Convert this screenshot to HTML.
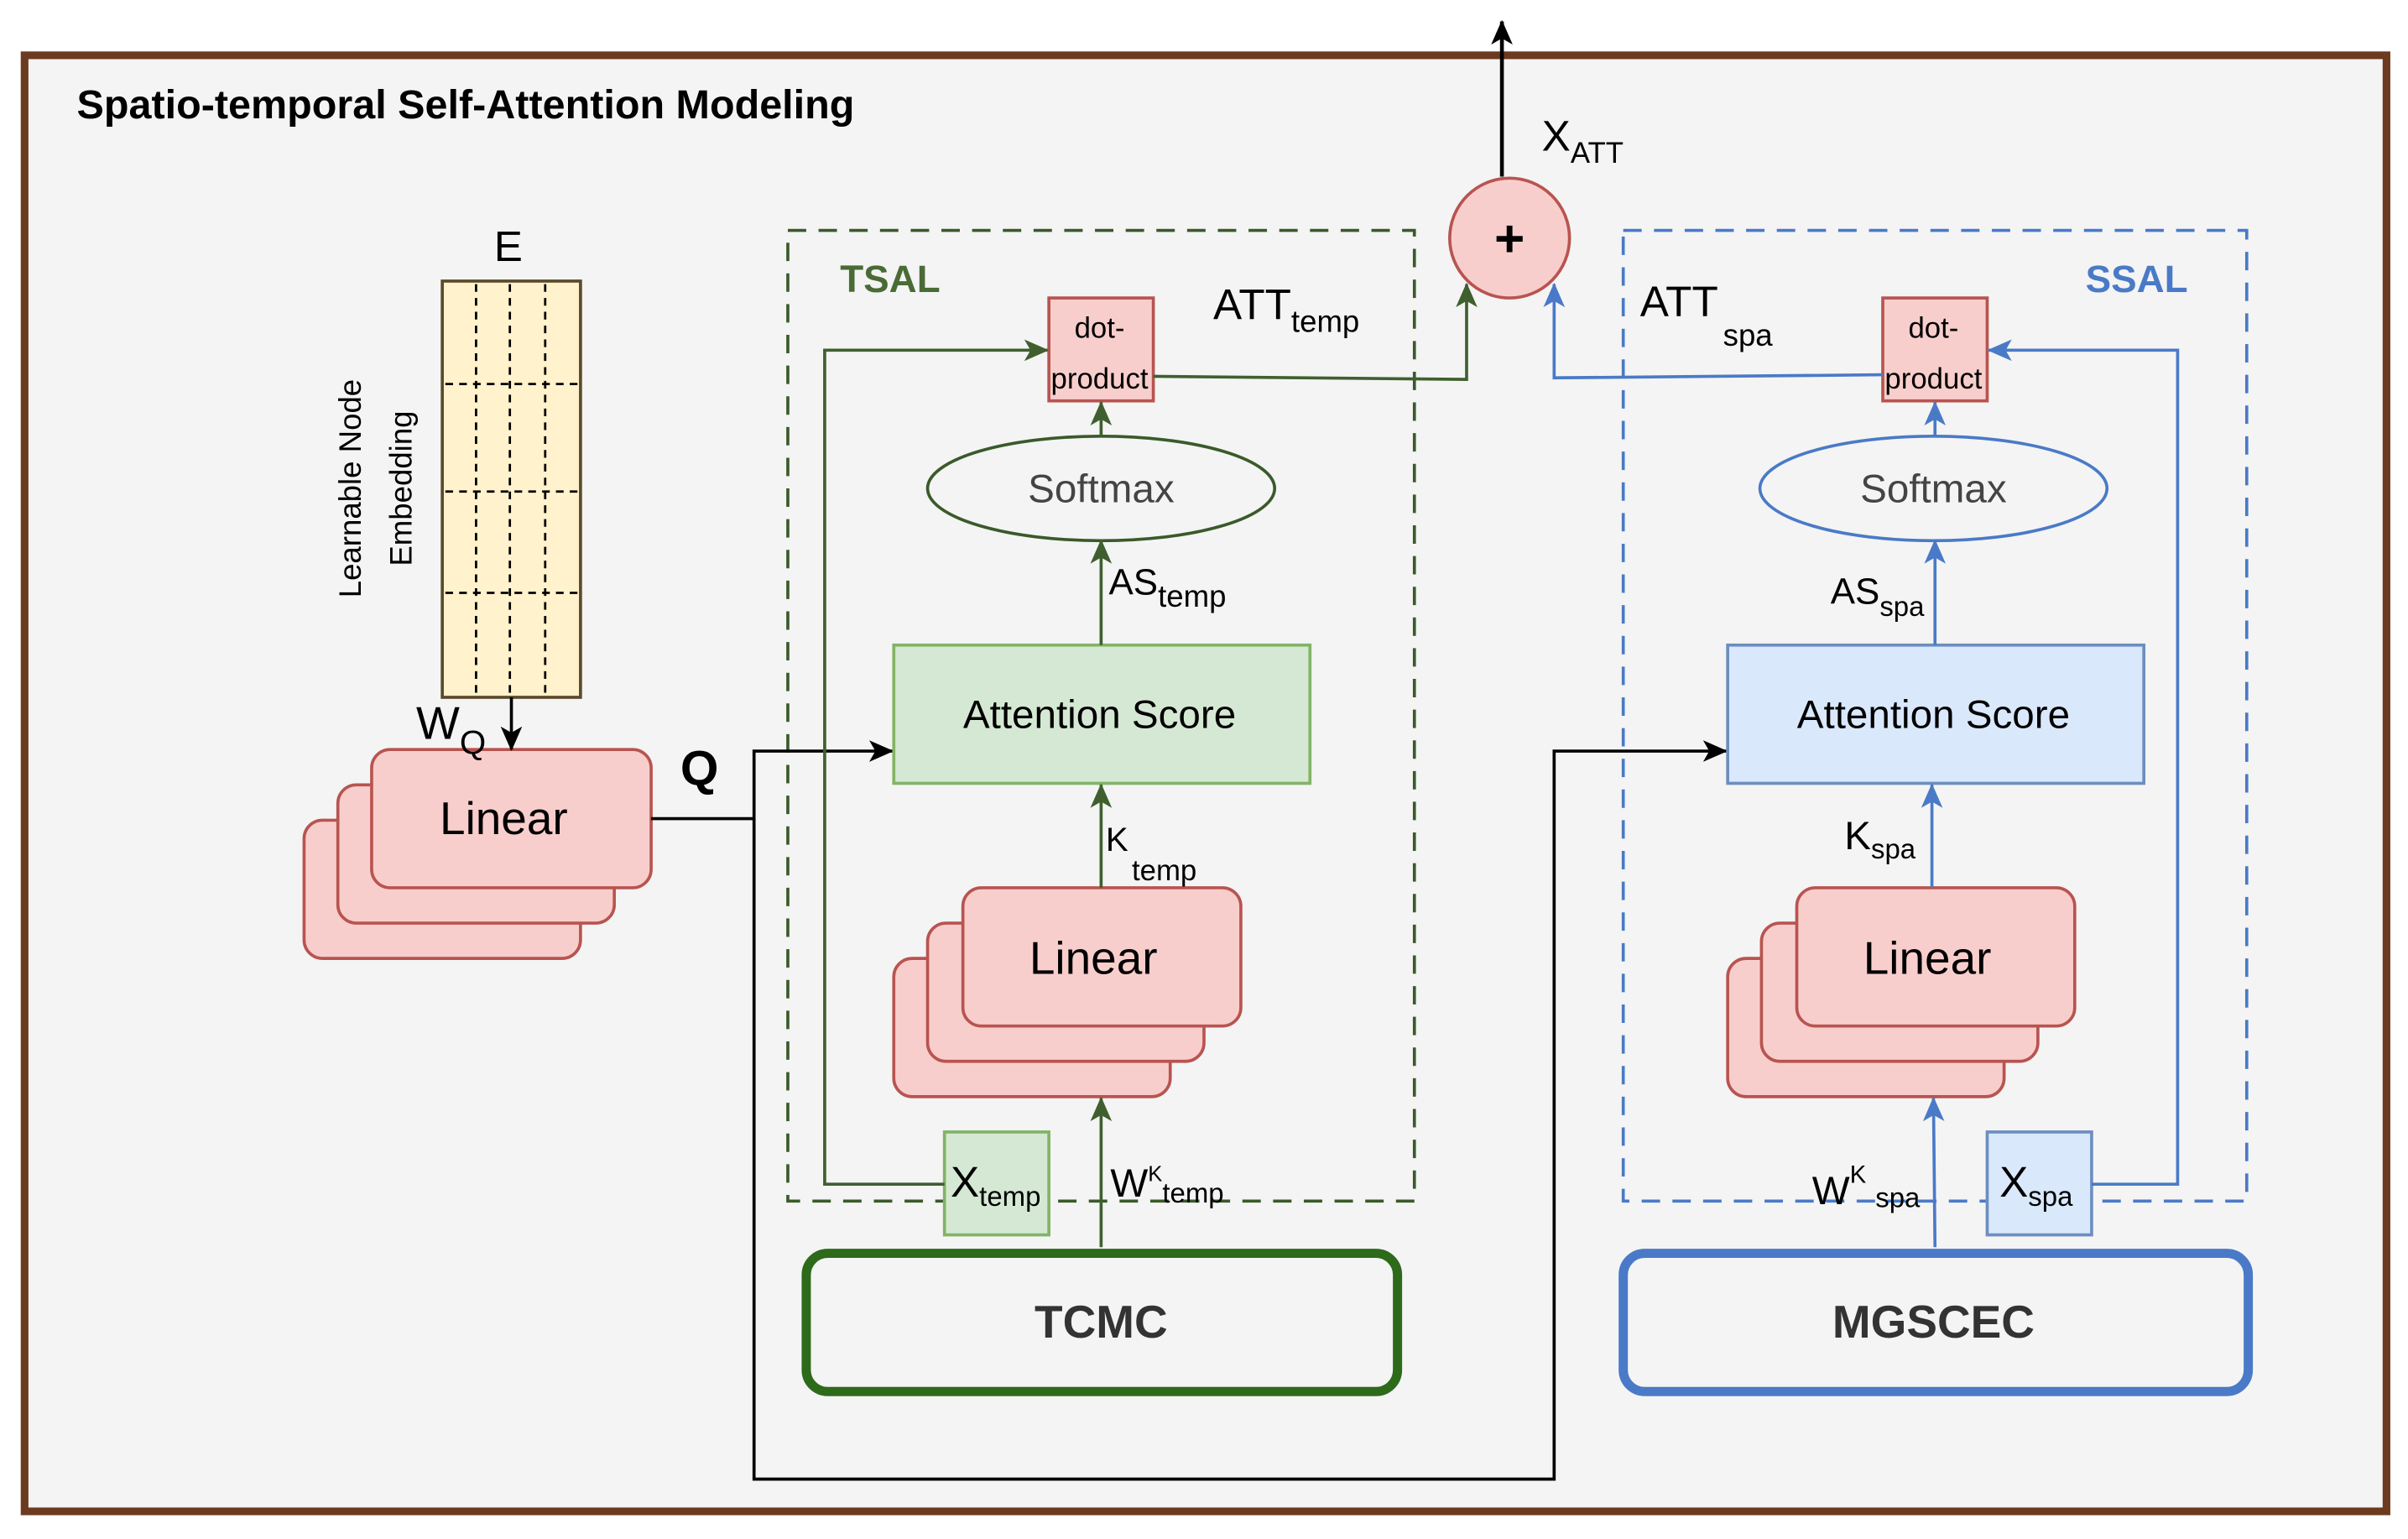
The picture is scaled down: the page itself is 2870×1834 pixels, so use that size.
<!DOCTYPE html>
<html><head><meta charset="utf-8"><style>
html,body{margin:0;padding:0;background:#fff;}
svg{display:block;}
text{font-family:"Liberation Sans",sans-serif;}
</style></head><body>
<svg width="2870" height="1834" viewBox="0 0 1568 1002" xmlns="http://www.w3.org/2000/svg">
<defs>
<marker id="ak" markerWidth="16" markerHeight="16" refX="15" refY="8" orient="auto" markerUnits="userSpaceOnUse"><path d="M0,1 L16,8 L0,15 L4,8 z" fill="#000"/></marker>
<marker id="ag" markerWidth="16" markerHeight="16" refX="15" refY="8" orient="auto" markerUnits="userSpaceOnUse"><path d="M0,1 L16,8 L0,15 L4,8 z" fill="#3f5f2f"/></marker>
<marker id="ab" markerWidth="16" markerHeight="16" refX="15" refY="8" orient="auto" markerUnits="userSpaceOnUse"><path d="M0,1 L16,8 L0,15 L4,8 z" fill="#4a7ac7"/></marker>
</defs>
<rect x="16" y="36" width="1538" height="948" fill="#f4f4f4" stroke="#6b3a1f" stroke-width="5"/>
<text x="50" y="77" font-size="26.5" font-weight="bold">Spatio-temporal Self-Attention Modeling</text>

<line x1="978" y1="115" x2="978" y2="14" stroke="#000" stroke-width="2.5" marker-end="url(#ak)"/>
<text x="1004" y="98" font-size="28">X<tspan font-size="19" dy="8">ATT</tspan></text>
<circle cx="983" cy="155" r="39" fill="#f8cecc" stroke="#b85450" stroke-width="2"/>
<text x="983" y="167" font-size="34" font-weight="bold" text-anchor="middle">+</text>

<rect x="513" y="150" width="408" height="632" fill="none" stroke="#3a5a2a" stroke-width="2" stroke-dasharray="12,8"/>
<text x="547" y="190" font-size="25" font-weight="bold" fill="#4a6b35">TSAL</text>
<rect x="1057" y="150" width="406" height="632" fill="none" stroke="#4a7ac7" stroke-width="2" stroke-dasharray="12,8"/>
<text x="1358" y="190" font-size="25" font-weight="bold" fill="#4a7ac7">SSAL</text>

<text x="331" y="170" font-size="28" text-anchor="middle">E</text>
<rect x="288" y="183" width="90" height="271" fill="#fff2cc" stroke="#5a4a2a" stroke-width="2"/>
<g stroke="#000" stroke-width="1.5" stroke-dasharray="5,4">
<line x1="310" y1="185" x2="310" y2="452"/><line x1="332" y1="185" x2="332" y2="452"/><line x1="355" y1="185" x2="355" y2="452"/>
<line x1="290" y1="250" x2="376" y2="250"/><line x1="290" y1="320" x2="376" y2="320"/><line x1="290" y1="386" x2="376" y2="386"/>
</g>
<text transform="translate(235,318) rotate(-90)" font-size="20" text-anchor="middle">Learnable Node</text>
<text transform="translate(268,318) rotate(-90)" font-size="20" text-anchor="middle">Embedding</text>

<g fill="#f8cecc" stroke="#b85450" stroke-width="2">
<rect x="198" y="534" width="180" height="90" rx="12"/>
<rect x="220" y="511" width="180" height="90" rx="12"/>
<rect x="242" y="488" width="182" height="90" rx="12"/>
</g>
<line x1="333" y1="454" x2="333" y2="488" stroke="#000" stroke-width="2" marker-end="url(#ak)"/>
<text x="271" y="481" font-size="30">W<tspan font-size="22" dy="10">Q</tspan></text>
<text x="328" y="543" font-size="30" text-anchor="middle">Linear</text>
<text x="443" y="511" font-size="32" font-weight="bold">Q</text>

<polyline points="424,533 491,533 491,489 581,489" fill="none" stroke="#000" stroke-width="2" marker-end="url(#ak)"/>
<polyline points="491,533 491,963 1012,963 1012,489 1124,489" fill="none" stroke="#000" stroke-width="2" marker-end="url(#ak)"/>

<rect x="582" y="420" width="271" height="90" fill="#d5e8d4" stroke="#82b366" stroke-width="2"/>
<text x="716" y="474" font-size="26" text-anchor="middle">Attention Score</text>
<ellipse cx="717" cy="318" rx="113" ry="34" fill="#f4f4f4" stroke="#3a5a2a" stroke-width="2"/>
<text x="717" y="327" font-size="26" text-anchor="middle" fill="#444">Softmax</text>
<rect x="683" y="194" width="68" height="67" fill="#f8cecc" stroke="#b85450" stroke-width="2"/>
<text x="716" y="220" font-size="19" text-anchor="middle">dot-</text>
<text x="716" y="253" font-size="19" text-anchor="middle">product</text>
<line x1="717" y1="420" x2="717" y2="352" stroke="#3f5f2f" stroke-width="2" marker-end="url(#ag)"/>
<text x="722" y="387" font-size="24">AS<tspan font-size="20" dy="8">temp</tspan></text>
<line x1="717" y1="284" x2="717" y2="262" stroke="#3f5f2f" stroke-width="2" marker-end="url(#ag)"/>
<polyline points="751,245 955,247 955,185" fill="none" stroke="#3f5f2f" stroke-width="2" marker-end="url(#ag)"/>
<text x="790" y="208" font-size="28">ATT<tspan font-size="20" dy="8">temp</tspan></text>
<g fill="#f8cecc" stroke="#b85450" stroke-width="2">
<rect x="582" y="624" width="180" height="90" rx="12"/>
<rect x="604" y="601" width="180" height="90" rx="12"/>
<rect x="627" y="578" width="181" height="90" rx="12"/>
</g>
<text x="712" y="634" font-size="30" text-anchor="middle">Linear</text>
<line x1="717" y1="578" x2="717" y2="511" stroke="#3f5f2f" stroke-width="2" marker-end="url(#ag)"/>
<text x="720" y="554" font-size="22">K</text><text x="737" y="573" font-size="19">temp</text>
<line x1="717" y1="812" x2="717" y2="715" stroke="#3f5f2f" stroke-width="2" marker-end="url(#ag)"/>
<text x="723" y="779" font-size="26">W<tspan font-size="14" dy="-10">K</tspan><tspan font-size="18" dy="14">temp</tspan></text>
<rect x="615" y="737" width="68" height="67" fill="#d5e8d4" stroke="#82b366" stroke-width="2"/>
<text x="619" y="779" font-size="28">X<tspan font-size="18" dy="6">temp</tspan></text>
<polyline points="615,771 537,771 537,228 682,228" fill="none" stroke="#3f5f2f" stroke-width="2" marker-end="url(#ag)"/>
<rect x="525" y="816" width="385" height="90" rx="14" fill="#f4f4f4" stroke="#2d6a1a" stroke-width="6"/>
<text x="717" y="871" font-size="30" font-weight="bold" text-anchor="middle" fill="#333">TCMC</text>

<rect x="1125" y="420" width="271" height="90" fill="#dae8fc" stroke="#6c8ebf" stroke-width="2"/>
<text x="1259" y="474" font-size="26" text-anchor="middle">Attention Score</text>
<ellipse cx="1259" cy="318" rx="113" ry="34" fill="#f4f4f4" stroke="#4a7ac7" stroke-width="2"/>
<text x="1259" y="327" font-size="26" text-anchor="middle" fill="#444">Softmax</text>
<rect x="1226" y="194" width="68" height="67" fill="#f8cecc" stroke="#b85450" stroke-width="2"/>
<text x="1259" y="220" font-size="19" text-anchor="middle">dot-</text>
<text x="1259" y="253" font-size="19" text-anchor="middle">product</text>
<line x1="1260" y1="420" x2="1260" y2="352" stroke="#4a7ac7" stroke-width="2" marker-end="url(#ab)"/>
<text x="1192" y="393" font-size="24">AS<tspan font-size="18" dy="8">spa</tspan></text>
<line x1="1260" y1="284" x2="1260" y2="262" stroke="#4a7ac7" stroke-width="2" marker-end="url(#ab)"/>
<polyline points="1226,244 1012,246 1012,185" fill="none" stroke="#4a7ac7" stroke-width="2" marker-end="url(#ab)"/>
<text x="1068" y="206" font-size="28">ATT</text><text x="1122" y="225" font-size="20">spa</text>
<g fill="#f8cecc" stroke="#b85450" stroke-width="2">
<rect x="1125" y="624" width="180" height="90" rx="12"/>
<rect x="1147" y="601" width="180" height="90" rx="12"/>
<rect x="1170" y="578" width="181" height="90" rx="12"/>
</g>
<text x="1255" y="634" font-size="30" text-anchor="middle">Linear</text>
<line x1="1258" y1="578" x2="1258" y2="511" stroke="#4a7ac7" stroke-width="2" marker-end="url(#ab)"/>
<text x="1201" y="553" font-size="26">K<tspan font-size="18" dy="6">spa</tspan></text>
<line x1="1260" y1="812" x2="1259" y2="715" stroke="#4a7ac7" stroke-width="2" marker-end="url(#ab)"/>
<text x="1180" y="784" font-size="26">W<tspan font-size="16" dy="-14">K</tspan><tspan font-size="18" dy="16" dx="6">spa</tspan></text>
<rect x="1294" y="737" width="68" height="67" fill="#dae8fc" stroke="#6c8ebf" stroke-width="2"/>
<text x="1302" y="779" font-size="28">X<tspan font-size="18" dy="6">spa</tspan></text>
<polyline points="1362,771 1418,771 1418,228 1295,228" fill="none" stroke="#4a7ac7" stroke-width="2" marker-end="url(#ab)"/>
<rect x="1057" y="816" width="407" height="90" rx="14" fill="#f4f4f4" stroke="#4a7ac7" stroke-width="6"/>
<text x="1259" y="871" font-size="30" font-weight="bold" text-anchor="middle" fill="#333">MGSCEC</text>
</svg>
</body></html>
